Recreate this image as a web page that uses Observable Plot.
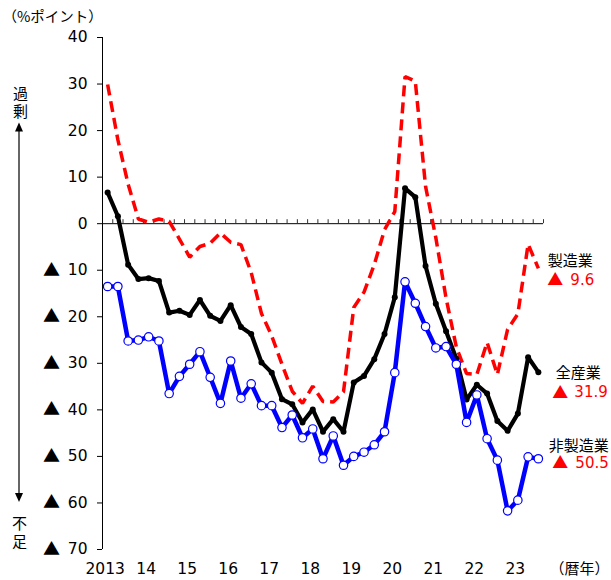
<!DOCTYPE html>
<html><head><meta charset="utf-8">
<script src="https://cdn.jsdelivr.net/npm/d3@7"></script>
<script src="https://cdn.jsdelivr.net/npm/@observablehq/plot@0.6"></script>
<style>
html,body{margin:0;padding:0;background:#fff;overflow:hidden}
svg{display:block}
</style></head><body><div id="chart"></div>
<script>
// Quarterly categories
const quarters = [
  "2013Q1","2013Q2","2013Q3","2013Q4","2014Q1","2014Q2","2014Q3","2014Q4",
  "2015Q1","2015Q2","2015Q3","2015Q4","2016Q1","2016Q2","2016Q3","2016Q4",
  "2017Q1","2017Q2","2017Q3","2017Q4","2018Q1","2018Q2","2018Q3","2018Q4",
  "2019Q1","2019Q2","2019Q3","2019Q4","2020Q1","2020Q2","2020Q3","2020Q4",
  "2021Q1","2021Q2","2021Q3","2021Q4","2022Q1","2022Q2","2022Q3","2022Q4",
  "2023Q1","2023Q2","2023Q3"
];
// 全産業
const allIndustries = [6.7, 1.6, -8.8, -11.9, -11.7, -12.3, -19.1, -18.7, -19.6, -16.4, -19.8, -20.9, -17.5, -22.2, -23.7, -29.8, -32.0, -37.7, -38.8, -42.7, -39.9, -44.7, -42.0, -44.7, -34.1, -32.7, -29.1, -23.7, -15.8, 7.6, 5.7, -9.1, -17.2, -23.1, -29.0, -37.8, -34.6, -36.5, -42.4, -44.5, -40.8, -28.7, -31.9];
// 製造業
const manufacturing = [29.9, 18.0, 8.5, 1.0, 0.3, 1.0, 0.5, -3.3, -7.2, -4.9, -4.2, -2.0, -4.0, -4.5, -10.5, -19.3, -24.1, -30.2, -36.0, -38.6, -34.9, -38.2, -38.3, -36.1, -18.0, -14.7, -8.8, -1.3, 2.6, 31.6, 30.6, 8.0, -3.0, -16.0, -26.5, -32.2, -32.4, -25.5, -32.4, -22.7, -19.4, -4.4, -9.6];
// 非製造業
const nonManufacturing = [-13.5, -13.5, -25.2, -25.0, -24.3, -25.2, -36.5, -32.8, -30.2, -27.5, -33.0, -38.6, -29.5, -37.5, -34.4, -39.1, -39.1, -43.8, -41.1, -46.0, -44.1, -50.5, -45.6, -51.9, -50.0, -49.1, -47.5, -44.7, -32.0, -12.5, -17.1, -22.1, -26.7, -26.4, -30.2, -42.7, -36.8, -46.2, -50.8, -61.7, -59.4, -50.1, -50.5];

const yearLabels = ["2013","14","15","16","17","18","19","20","21","22","23"];
const yearFull = [2013,2014,2015,2016,2017,2018,2019,2020,2021,2022,2023];
const yTicks = [40,30,20,10,0,-10,-20,-30,-40,-50,-60,-70];
const seriesNames = ["製造業","全産業","非製造業"];
const yUnitLabel = "（%ポイント）";
const xUnitLabel = "（暦年）";
const surplusChars = ["過","剰"];
const shortageChars = ["不","足"];

// tables built from the arrays
const table = quarters.map((q, i) => ({q, i, all: allIndustries[i], mfg: manufacturing[i], non: nonManufacturing[i]}));
const yearTickIdx = yearFull.map(y => quarters.indexOf(y + "Q1"));
const boundaries = quarters.map((q, i) => i + 0.5);
const last = quarters.length - 1;
const seriesArrays = [manufacturing, allIndustries, nonManufacturing];

// label layout (px offsets relative to last point of each series)
const labelLayout = [
  {nameDx: 9.5, nameDy: -7, triDx: 17, valDx: 32, valDy: 12},
  {nameDx: 17.5, nameDy: 1, triDx: 22, valDx: 36, valDy: 20.5},
  {nameDx: 10.5, nameDy: -12.5, triDx: 22, valDx: 37, valDy: 4.5}
];
const endLabels = seriesNames.map((name, k) => ({name, v: seriesArrays[k][last], ...labelLayout[k]}));

const NUM = "'DejaVu Sans', sans-serif";
const CJK = "'Noto Sans CJK JP', sans-serif";

const endMarks = endLabels.flatMap(d => [
  Plot.text([d], {x: () => last, y: "v", dx: d.nameDx, dy: d.nameDy, text: "name", textAnchor: "start", lineAnchor: "middle", fontFamily: CJK, fontSize: 15, fill: "#000"}),
  Plot.text([d], {x: () => last, y: "v", dx: d.triDx, dy: d.valDy, text: () => "▲", textAnchor: "middle", lineAnchor: "middle", fontFamily: CJK, fontSize: 16, fill: "#FF0000"}),
  Plot.text([d], {x: () => last, y: "v", dx: d.valDx, dy: d.valDy, text: e => Math.abs(e.v).toFixed(1), textAnchor: "start", lineAnchor: "middle", fontFamily: NUM, fontSize: 15, fill: "#FF0000"})
]);

const sideMarks = [
  ...surplusChars.map((c, k) => Plot.text([c], {frameAnchor: "top-left", dx: -82, dy: 57 + 18 * k, text: d => d, fontFamily: CJK, fontSize: 15, textAnchor: "middle", lineAnchor: "middle"})),
  ...shortageChars.map((c, k) => Plot.text([c], {frameAnchor: "bottom-left", dx: -83, dy: -25 + 18 * k, text: d => d, fontFamily: CJK, fontSize: 15, textAnchor: "middle", lineAnchor: "middle"}))
];

const chart = Plot.plot({
  width: 611, height: 580,
  marginLeft: 102, marginRight: 68, marginTop: 37, marginBottom: 31,
  style: {fontFamily: NUM, fontSize: "15px", color: "#000", background: "#fff", overflow: "visible"},
  x: {domain: [-0.5, quarters.length - 0.5], axis: null},
  y: {domain: [-70, 40], axis: null},
  marks: [
    // y axis
    Plot.axisY(yTicks, {tickSize: 5, tickPadding: 10, tickFormat: d => String(Math.abs(d)), fontSize: 15.5, fontFamily: NUM, stroke: "#000"}),
    Plot.text(yTicks.filter(d => d < 0), {y: d => d, frameAnchor: "left", dx: -51, text: () => "▲", textAnchor: "middle", lineAnchor: "middle", fontFamily: CJK, fontSize: 17, fill: "#000"}),
    Plot.ruleX([-0.5], {stroke: "#000", strokeWidth: 1}),
    // zero line with quarterly ticks
    Plot.ruleY([0], {stroke: "#000", strokeWidth: 1}),
    Plot.ruleX(boundaries, {x: d => d, y1: 0, y2: 0.86, stroke: "#333", strokeWidth: 1}),
    // year labels
    Plot.text(yearTickIdx, {x: d => d, frameAnchor: "bottom", dy: 20, dx: -2.5, text: (d, i) => yearLabels[i], fontFamily: NUM, fontSize: 15.5, lineAnchor: "middle"}),
    Plot.text([xUnitLabel], {frameAnchor: "bottom-right", dx: 66, dy: 20, text: d => d, textAnchor: "end", lineAnchor: "middle", fontFamily: CJK, fontSize: 15}),
    Plot.text([yUnitLabel], {frameAnchor: "top-left", dx: -100, dy: -20, text: d => d, textAnchor: "start", lineAnchor: "middle", fontFamily: CJK, fontSize: 14.5}),
    ...sideMarks,
    // series
    Plot.line(table, {x: "i", y: "mfg", stroke: "#FF0000", strokeWidth: 3.5, strokeDasharray: "11,6", strokeLinecap: "butt", strokeLinejoin: "miter"}),
    Plot.line(table, {x: "i", y: "all", stroke: "#000", strokeWidth: 4.2, strokeLinejoin: "miter"}),
    Plot.dot(table, {x: "i", y: "all", r: 3, fill: "#000"}),
    Plot.line(table, {x: "i", y: "non", stroke: "#0000FF", strokeWidth: 4.5, strokeLinejoin: "miter"}),
    Plot.dot(table, {x: "i", y: "non", r: 4.2, fill: "#fff", stroke: "#0000FF", strokeWidth: 1.2}),
    ...endMarks
  ]
});

// double-headed arrow between 過剰 and 不足
const svg = d3.select(chart);
const g = svg.append("g").attr("fill", "#000").attr("stroke", "none");
g.append("line").attr("x1", 19).attr("x2", 19).attr("y1", 130).attr("y2", 495).attr("stroke", "#000").attr("stroke-width", 1.2);
g.append("path").attr("d", "M19,122.5L15,131.5L23,131.5Z");
g.append("path").attr("d", "M19,502L15,493L23,493Z");

document.getElementById("chart").append(chart);
</script></body></html>
